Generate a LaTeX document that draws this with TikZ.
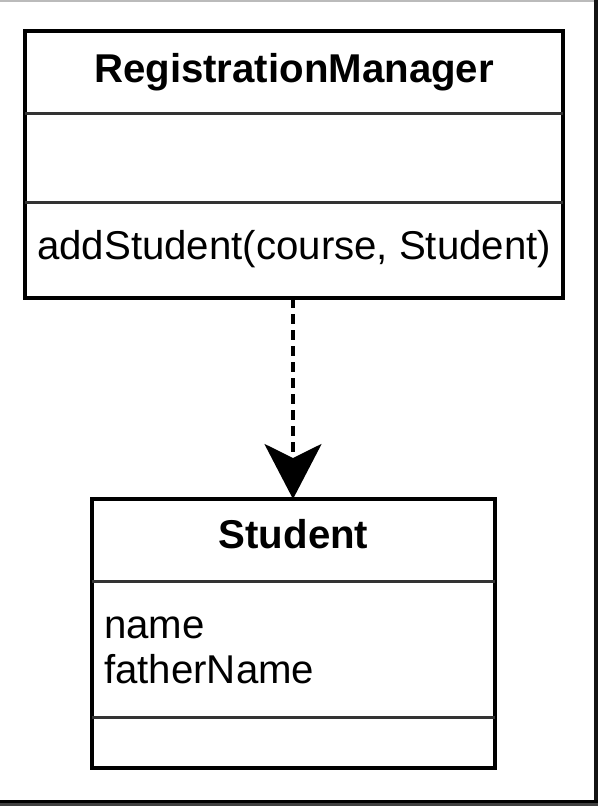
\documentclass[tikz,border=0pt]{standalone}
\usepackage{fontspec}
\setmainfont{Liberation Sans}
\usetikzlibrary{arrows.meta}
\definecolor{divgray}{HTML}{333333}
\definecolor{framegray}{HTML}{BBBBBB}
\begin{document}
\begin{tikzpicture}[x=1pt,y=-1pt,
  classbox/.style={draw=black, line width=3.4pt, fill=white, inner sep=0pt, outer sep=0pt},
  divider/.style={draw=divgray, line width=3pt},
  bigtxt/.style={inner sep=0pt, font=\fontsize{40.2}{44}\selectfont},
  titletxt/.style={bigtxt, font=\fontsize{40.2}{44}\selectfont\bfseries},
  dep/.style={line width=3.4pt, dash pattern=on 10pt off 6pt, -{Stealth[length=55pt,width=57pt,inset=14pt]}}
]
\useasboundingbox (0,0) rectangle (598,806);
\fill[white] (0,0) rectangle (598,806);
% screenshot frame remnants
\fill[framegray] (0,0) rectangle (594,1.5);
\fill[black!92] (593.5,0) rectangle (598,801);
\fill[black] (0,799.5) rectangle (598,802.5);
\fill[black!75] (0,802.5) rectangle (598,806);

% RegistrationManager class
\node[classbox, minimum width=538pt, minimum height=267pt, anchor=north west] (rm) at (25,31) {};
\draw[divider] (rm.west |- 0,113) coordinate (rmd1a) -- (rm.east |- 0,113) coordinate (rmd1b);
\draw[divider] (rm.west |- 0,202) coordinate (rmd2a) -- (rm.east |- 0,202) coordinate (rmd2b);
\node[titletxt, anchor=base] (rmtitle) at (294,82) {RegistrationManager};
\node[bigtxt, anchor=base west] (rmop) at (37,259) {addStudent(course, Student)};

% Student class
\node[classbox, minimum width=403pt, minimum height=269pt, anchor=north west] (st) at (92,499) {};
\draw[divider] (st.west |- 0,581) coordinate (std1a) -- (st.east |- 0,581) coordinate (std1b);
\draw[divider] (st.west |- 0,717) coordinate (std2a) -- (st.east |- 0,717) coordinate (std2b);
\node[titletxt, anchor=base] (sttitle) at (293.5,548) {Student};
\node[bigtxt, anchor=base west] (statt1) at (104,638) {name};
\node[bigtxt, anchor=base west] (statt2) at (104,683) {fatherName};

% dependency
\draw[dep] (rm.south -| 293,0) -- (st.north -| 293,0);
\end{tikzpicture}
\end{document}
